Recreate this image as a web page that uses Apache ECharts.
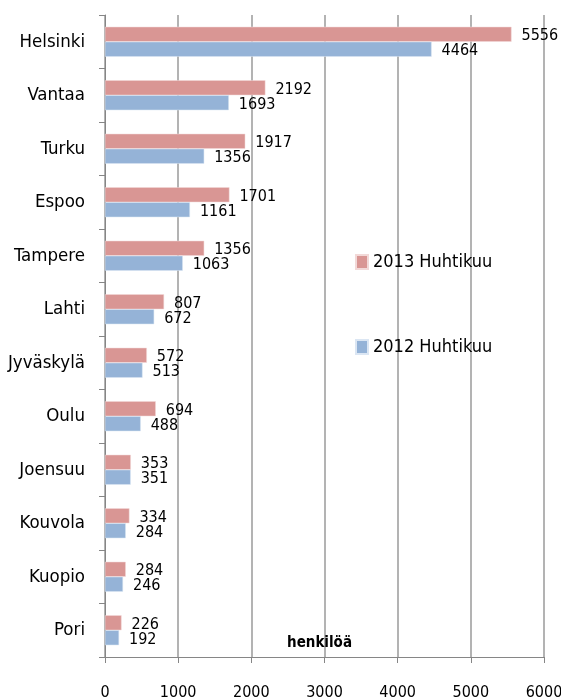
<!DOCTYPE html>
<html>
<head>
<meta charset="utf-8">
<script src="https://cdn.jsdelivr.net/npm/echarts@6/dist/echarts.min.js"></script>
<style>
    html, body {margin: 0; padding: 0; background: #fff;}
    #chart {width: 561px; height: 699px;}
</style>
</head>
<body>
<div id="chart"></div>
<script>
    // kaupungit ylhäältä alas
    const cities = ['Helsinki', 'Vantaa', 'Turku', 'Espoo', 'Tampere', 'Lahti', 'Jyväskylä', 'Oulu', 'Joensuu', 'Kouvola', 'Kuopio', 'Pori']
    const values2013 = [5556, 2192, 1917, 1701, 1356, 807, 572, 694, 353, 334, 284, 226]
    const values2012 = [4464, 1693, 1356, 1161, 1063, 672, 513, 488, 351, 284, 246, 192]
    const seriesNames = ['2013 Huhtikuu', '2012 Huhtikuu']
    const xTicks = [0, 1000, 2000, 3000, 4000, 5000, 6000]

    const font = '"DejaVu Sans Condensed", sans-serif'
    const axisGray = '#868686'

    const chart = echarts.init(document.getElementById('chart'))

    const labelStyle = {
        show: true,
        position: 'right',
        distance: 10,
        offset: [0, 2],
        fontFamily: font,
        fontSize: 16,
        color: '#000'
    }

    const option = {
        animation: false,
        textStyle: {fontFamily: font},
        legend: {
            orient: 'vertical',
            left: 355,
            top: 251,
            padding: 0,
            itemWidth: 12,
            itemHeight: 14,
            itemGap: 63,
            icon: 'rect',
            data: seriesNames,
            textStyle: {fontFamily: font, fontSize: 18, color: '#000', lineHeight: 22}
        },
        grid: {
            left: 105,
            right: 17,
            top: 15,
            bottom: 42,
            outerBoundsMode: 'none'
        },
        xAxis: {
            type: 'value',
            min: xTicks[0],
            max: xTicks[xTicks.length - 1],
            interval: 1000,
            name: 'henkilöä',
            nameLocation: 'middle',
            nameGap: -14,
            nameTextStyle: {
                fontFamily: font, fontSize: 15, fontWeight: 'bold', color: '#000',
                verticalAlign: 'middle', padding: [0, 10, 0, 0]
            },
            axisLine: {show: true, lineStyle: {color: axisGray, width: 1}},
            axisTick: {show: true, length: 6, lineStyle: {color: axisGray}},
            axisLabel: {
                margin: 28,
                fontFamily: font,
                fontSize: 16,
                color: '#000',
                verticalAlign: 'top',
                formatter: (v) => xTicks.includes(v) ? String(v) : ''
            },
            splitLine: {show: true, lineStyle: {color: '#9a9a9a', width: 1.5}}
        },
        yAxis: {
            type: 'category',
            inverse: true,
            data: cities,
            axisLine: {show: true, lineStyle: {color: axisGray, width: 1}},
            axisTick: {show: true, length: 6, lineStyle: {color: axisGray}},
            axisLabel: {margin: 20, fontFamily: font, fontSize: 18.5, color: '#000'}
        },
        series: [
            {
                name: seriesNames[0],
                type: 'bar',
                data: values2013,
                barGap: '0%',
                barCategoryGap: '44%',
                itemStyle: {color: '#D99694', borderColor: '#f2d9d8', borderWidth: 0.5},
                label: labelStyle
            },
            {
                name: seriesNames[1],
                type: 'bar',
                data: values2012,
                barGap: '0%',
                barCategoryGap: '44%',
                itemStyle: {color: '#95B3D7', borderColor: '#dbe6f3', borderWidth: 0.5},
                label: labelStyle
            }
        ]
    }

    chart.setOption(option)
</script>
</body>
</html>
